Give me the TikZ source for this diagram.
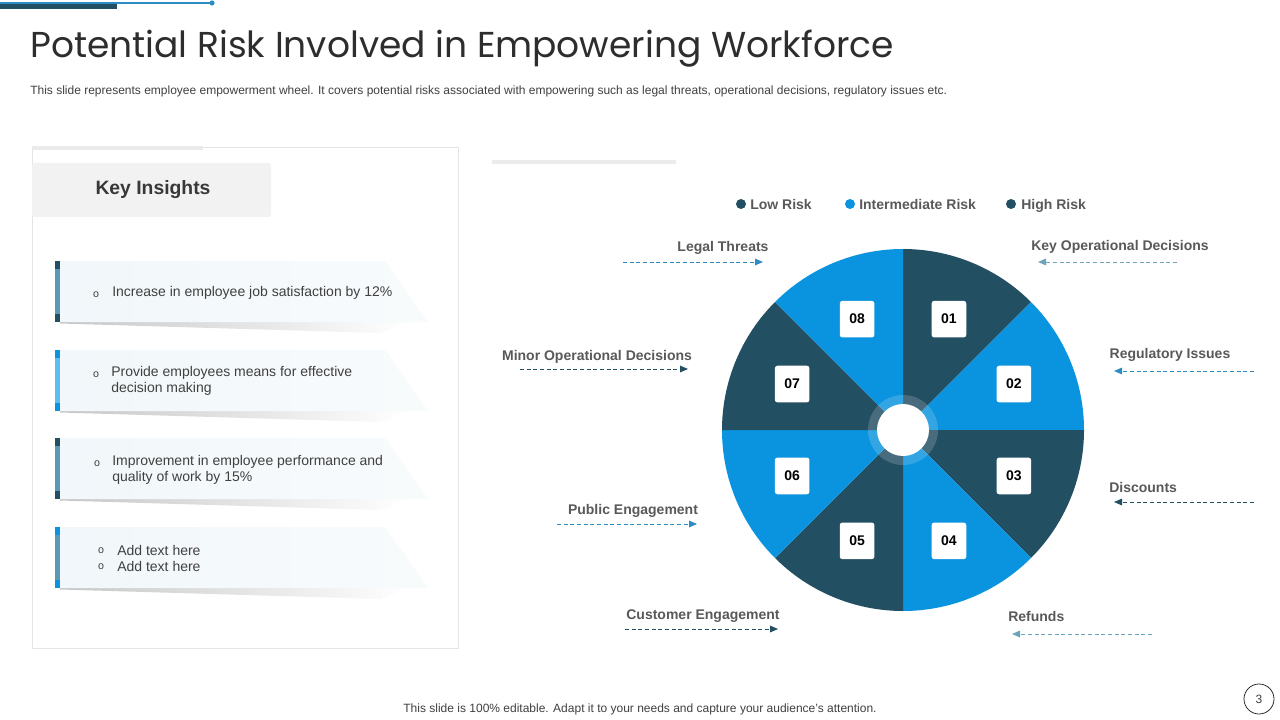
\documentclass[tikz,border=0pt]{standalone}
\usepackage{fontspec}
\setmainfont{Liberation Sans}
\newfontfamily\titlefont{Poppins}
\usepackage{xcolor}
\usetikzlibrary{
  positioning,
  arrows.meta,
  calc
}
\definecolor{wheeldark}{RGB}{35,79,99}
\definecolor{wheelblue}{RGB}{10,147,222}
\definecolor{labelgray}{RGB}{89,89,89}
\definecolor{textgray}{RGB}{64,64,64}
\definecolor{titlegray}{RGB}{45,45,45}
\definecolor{steel}{RGB}{90,152,180}
\definecolor{skyblue}{RGB}{92,190,240}
\definecolor{cardfill}{RGB}{241,247,250}
\definecolor{panelgray}{RGB}{242,242,242}
\definecolor{arrowblue}{RGB}{46,140,196}
\definecolor{arrowteal}{RGB}{110,163,188}
\tikzset{
  numbox/.style={fill=white, rounded corners=2pt, minimum width=26pt,
    minimum height=27.5pt, inner sep=0pt, font=\fontsize{10.5}{12}\selectfont\bfseries},
  risklabel/.style={font=\fontsize{10.5}{12}\selectfont\bfseries, text=labelgray,
    inner sep=0pt, text height=7.5pt, text depth=2pt, yshift=-1.4pt},
  riskarrow/.style={#1, line width=0.75pt, dash pattern=on 3pt off 2pt,
    -{Triangle[length=6pt,width=5pt]}},
  legdot/.style={circle, inner sep=0pt, minimum size=7.5pt},
  legtext/.style={font=\fontsize{10.5}{12}\selectfont\bfseries, text=labelgray,
    inner sep=0pt, anchor=west, text height=7.5pt, text depth=2pt, yshift=-1.4pt},
  cardtext/.style={font=\fontsize{10.5}{12}\selectfont, text=textgray, align=left, anchor=west, inner sep=0pt},
  cardbullet/.style={font=\fontsize{8}{9}\selectfont, text=textgray, inner sep=0pt}
}

\begin{document}
\begin{tikzpicture}[x=0.75pt, y=-0.75pt]
  \useasboundingbox (0,0) rectangle (1280,720);
  \fill[white] (0,0) rectangle (1280,720);

  % top bars
  \draw[arrowblue, line width=0.9pt] (0,3) -- (212,3);
  \fill[arrowblue] (212,3) circle[radius=2.6];
  \fill[wheeldark] (0,4.5) rectangle (117,9);

  % title
  \node[anchor=base west, inner sep=0pt, text=titlegray,
    font=\titlefont\fontsize{27}{32}\selectfont] (title) at (30,58)
    {Potential Risk Involved in Empowering Workforce};
  \node[anchor=base west, inner sep=0pt, text=textgray,
    font=\fontsize{9}{11}\selectfont] (subtitle) at (30,95)
    {This slide represents employee empowerment wheel. It covers potential risks associated with empowering such as legal threats, operational decisions, regulatory issues etc.};

  % left panel
  \draw[black!10, line width=0.6pt] (32,147) rectangle (458,648);
  \fill[black!8] (32,146) rectangle (203,150);
  \fill[panelgray, rounded corners=2pt] (32,163) rectangle (271,217);
  \node[font=\fontsize{14.5}{17}\selectfont\bfseries, text=black!78] (keyins) at (153,190) {Key Insights};

  % cards
  \foreach \y/\ca/\cb in {261/wheeldark/steel, 350/wheelblue/skyblue,
                          438/wheeldark/steel, 527/wheelblue/steel}{
    \shade[left color=black!22, right color=white]
      (60,\y+61) -- (410,\y+61) -- (380,\y+72) -- (60,\y+62.5) -- cycle;
    \shade[left color=cardfill, right color=cardfill!50!white]
      (60,\y) -- (385,\y) -- (428,\y+61) -- (60,\y+61) -- cycle;
    \fill[\cb] (55,\y) rectangle (60,\y+61);
    \fill[\ca] (55,\y) rectangle (60,\y+8);
    \fill[\ca] (55,\y+53) rectangle (60,\y+61);
  }
  \node[cardbullet] (b1) at (96,295) {o};
  \node[cardtext] (t1) at (112,293) {Increase in employee job satisfaction by 12\%};
  \node[cardbullet] (b2) at (96,375) {o};
  \node[cardtext] (t2) at (111,381) {Provide employees means for effective\\decision making};
  \node[cardbullet] (b3) at (97,464) {o};
  \node[cardtext] (t3) at (112,470) {Improvement in employee performance and\\quality of work by 15\%};
  \node[cardbullet] (b4) at (101,551) {o};
  \node[cardbullet] (b5) at (101,567) {o};
  \node[cardtext] (t4) at (117,558) {Add text here\\Add text here};

  % right side
  \fill[black!8] (492,160) rectangle (676,164);
  % legend
  \node[legdot, fill=wheeldark] (d1) at (741,204) {};
  \node[legtext] (low) at (750,204) {Low Risk};
  \node[legdot, fill=wheelblue] (d2) at (850,204) {};
  \node[legtext] (mid) at (859,204) {Intermediate Risk};
  \node[legdot, fill=wheeldark] (d3) at (1011,204) {};
  \node[legtext] (high) at (1021,204) {High Risk};

  % wheel
  \begin{scope}[shift={(903,430)}, x=0.75pt, y=0.75pt]
    \foreach \i/\c/\n in {0/wheeldark/01, 1/wheelblue/02, 2/wheeldark/03, 3/wheelblue/04,
                          4/wheeldark/05, 5/wheelblue/06, 6/wheeldark/07, 7/wheelblue/08}{
      \fill[\c] (0,0) -- (90-45*\i:181)
        arc[start angle=90-45*\i, end angle=45-45*\i, radius=181] -- cycle;
      \node[numbox] (box\n) at (67.5-45*\i:120) {\n};
    }
    \fill[white, opacity=0.17] (0,0) circle[radius=35];
    \fill[white] (0,0) circle[radius=26];
    \coordinate (hub) at (0,0);
  \end{scope}

  % risk labels and arrows
  \node[risklabel] (legal) at (723,246) {Legal Threats};
  \coordinate (legal-a) at (623,262); \coordinate (legal-b) at (763,262);
  \draw[riskarrow=arrowblue] (legal-a) -- (legal-b);

  \node[risklabel] (keyop) at (1120,245) {Key Operational Decisions};
  \coordinate (keyop-a) at (1177,262); \coordinate (keyop-b) at (1038,262);
  \draw[riskarrow=arrowteal] (keyop-a) -- (keyop-b);

  \node[risklabel] (minorop) at (597,355) {Minor Operational Decisions};
  \coordinate (minorop-a) at (520,369); \coordinate (minorop-b) at (688,369);
  \draw[riskarrow=wheeldark] (minorop-a) -- (minorop-b);

  \node[risklabel] (regul) at (1170,353) {Regulatory Issues};
  \coordinate (regul-a) at (1254,371); \coordinate (regul-b) at (1114,371);
  \draw[riskarrow=arrowblue] (regul-a) -- (regul-b);

  \node[risklabel, anchor=west] (disc) at (1109,487) {Discounts};
  \coordinate (disc-a) at (1254,502); \coordinate (disc-b) at (1114,502);
  \draw[riskarrow=wheeldark] (disc-a) -- (disc-b);

  \node[risklabel] (public) at (633,509) {Public Engagement};
  \coordinate (public-a) at (557,524); \coordinate (public-b) at (697,524);
  \draw[riskarrow=arrowblue] (public-a) -- (public-b);

  \node[risklabel] (cust) at (703,614) {Customer Engagement};
  \coordinate (cust-a) at (625,629); \coordinate (cust-b) at (778,629);
  \draw[riskarrow=wheeldark] (cust-a) -- (cust-b);

  \node[risklabel, anchor=west] (refund) at (1008,616) {Refunds};
  \coordinate (refund-a) at (1152,634); \coordinate (refund-b) at (1012,634);
  \draw[riskarrow=arrowteal] (refund-a) -- (refund-b);

  % footer
  \node[inner sep=0pt, text=textgray, font=\fontsize{9}{11}\selectfont] (footer) at (640,709)
    {This slide is 100\% editable. Adapt it to your needs and capture your audience's attention.};
  \draw[titlegray, line width=0.6pt] (1259,699) circle[radius=15];
  \node[inner sep=0pt, text=textgray, font=\fontsize{9}{11}\selectfont] (page) at (1259,699) {3};
\end{tikzpicture}
\end{document}
